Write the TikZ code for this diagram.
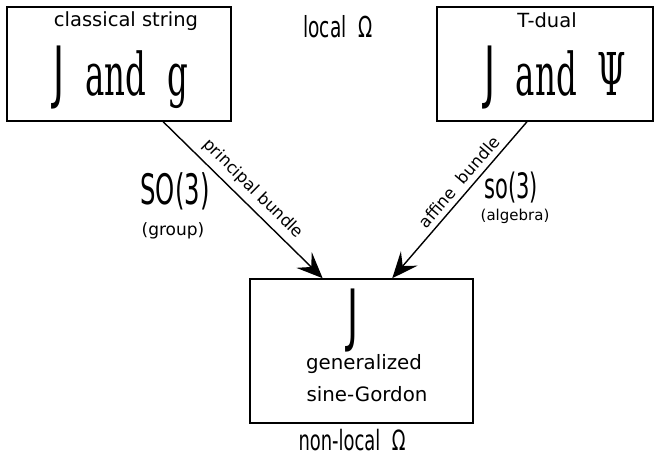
\documentclass[tikz,border=0pt]{standalone}
\usepackage{fontspec}
\setmainfont{DejaVu Sans}
\newfontfamily\serifbig{DejaVu Serif}
\usetikzlibrary{arrows.meta,calc}
\newcommand\cnd[3]{\scalebox{#1}[1]{\fontsize{#2}{#2}\selectfont #3}}
\tikzset{
  box/.style={draw=black,line width=1.6pt,rectangle,inner sep=0pt},
  lab/.style={inner sep=0pt,align=center},
  arr/.style={line width=1.4pt,-{Stealth[length=26pt,width=22pt,inset=10pt]}},
  along/.style={inner sep=0pt,font=\fontsize{16.5}{16.5}\selectfont}
}
\begin{document}
\begin{tikzpicture}[x=1pt,y=-1pt]
\useasboundingbox (0,0) rectangle (656,455);
% boxes
\node[box,minimum width=224pt,minimum height=114pt] (L) at (119,64) {};
\node[box,minimum width=216pt,minimum height=114pt] (R) at (545,64) {};
\node[box,minimum width=223pt,minimum height=144pt] (B) at (361.5,351) {};
% texts in boxes
\node[lab,font=\fontsize{19.5}{19.5}\selectfont] (Lt) at (126,21) {classical string};
\node[lab,anchor=base] (Lm) at (121,95) {\cnd{0.55}{68}{J}\cnd{0.55}{59}{\serifbig~~and~~g}};
\node[lab,font=\fontsize{19.5}{19.5}\selectfont] (Rt) at (547,20) {T-dual};
\node[lab,anchor=base] (Rm) at (555,95) {\cnd{0.55}{68}{J}\cnd{0.55}{59}{\serifbig~~and~~Ψ}};
\node[lab,anchor=base] (Bj) at (353,338) {\cnd{0.55}{68}{J}};
\node[lab,font=\fontsize{19.8}{19.8}\selectfont] (Bg) at (364,364) {generalized};
\node[lab,font=\fontsize{19.8}{19.8}\selectfont] (Bs) at (367,394) {sine-Gordon};
% free labels
\node[lab,anchor=base] (loc) at (338,37) {\cnd{0.64}{29}{local~~Ω}};
\node[lab,anchor=base] (nloc) at (352,450) {\cnd{0.64}{28}{non-local~~Ω}};
\node[lab] (so) at (175,191) {\cnd{0.58}{42}{SO(3)}};
\node[lab,font=\fontsize{17}{17}\selectfont] (grp) at (173,231) {(group)};
\node[lab] (sa) at (511,188) {\cnd{0.6}{35}{so(3)}};
\node[lab,font=\fontsize{15}{15}\selectfont] (alg) at (515,216) {(algebra)};
% arrow ends
\coordinate (ls) at ($(L.south west)!0.696!(L.south east)$);
\coordinate (le) at ($(B.north west)!0.327!(B.north east)$);
\coordinate (rs) at ($(R.south west)!0.417!(R.south east)$);
\coordinate (re) at ($(B.north west)!0.637!(B.north east)$);
\draw[arr] (ls) -- (le);
\draw[arr] (rs) -- (re);
% arrow labels
\node[along,rotate=-44.6] (pb) at (253,189) {principal bundle};
\node[along,rotate=49.5] (ab) at (459,182) {affine~~bundle};
\end{tikzpicture}
\end{document}
